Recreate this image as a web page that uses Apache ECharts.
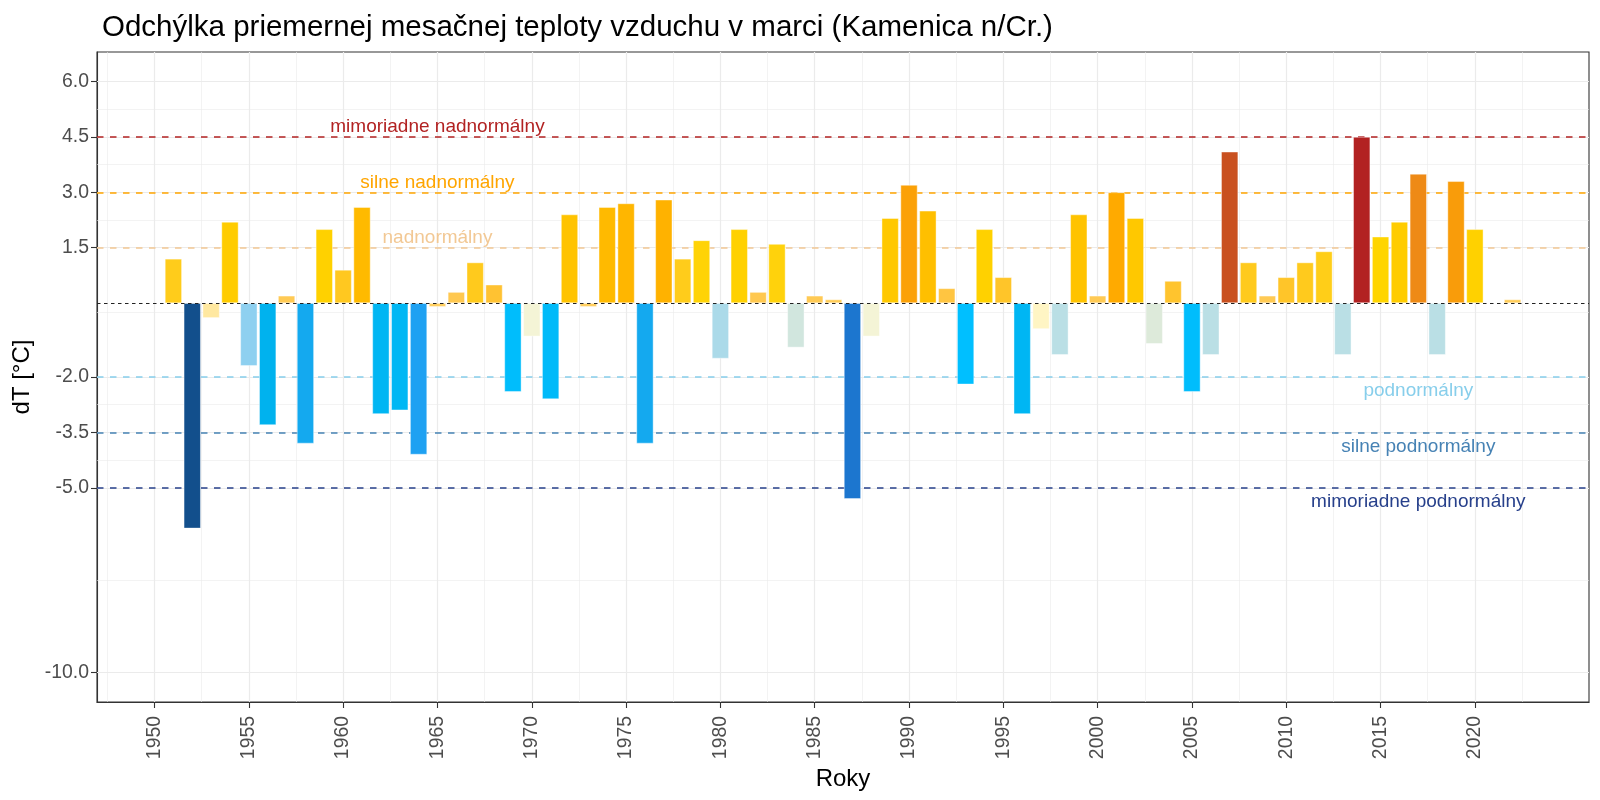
<!DOCTYPE html>
<html>
<head>
<meta charset="utf-8">
<script src="https://cdn.jsdelivr.net/npm/echarts@6/dist/echarts.min.js"></script>
<style>
html,body{margin:0;padding:0;background:#fff;}
#chart{width:1600px;height:800px;}
</style>
</head>
<body>
<div id="chart"></div>
<script>
// ---- data ----
var years = [1951,1952,1953,1954,1955,1956,1957,1958,1959,1960,1961,1962,1963,1964,1965,1966,1967,1968,1969,1970,
             1971,1972,1973,1974,1975,1976,1977,1978,1979,1980,1981,1982,1983,1984,1985,1986,1987,1988,1989,1990,
             1991,1992,1993,1994,1995,1996,1997,1998,1999,2000,2001,2002,2003,2004,2005,2006,2007,2008,2009,2010,
             2011,2012,2013,2014,2015,2016,2017,2018,2019,2020,2021,2022];
var dT = [1.2,-6.1,-0.4,2.2,-1.7,-3.3,0.2,-3.8,2.0,0.9,2.6,-3.0,-2.9,-4.1,-0.1,0.3,1.1,0.5,-2.4,-0.9,
          -2.6,2.4,-0.1,2.6,2.7,-3.8,2.8,1.2,1.7,-1.5,2.0,0.3,1.6,-1.2,0.2,0.1,-5.3,-0.9,2.3,3.2,
          2.5,0.4,-2.2,2.0,0.7,-3.0,-0.7,-1.4,2.4,0.2,3.0,2.3,-1.1,0.6,-2.4,-1.4,4.1,1.1,0.2,0.7,
          1.1,1.4,-1.4,4.5,1.8,2.2,3.5,-1.4,3.3,2.0,0.0,0.1];
var xTicks = [1950,1955,1960,1965,1970,1975,1980,1985,1990,1995,2000,2005,2010,2015,2020];
var xMinor = [1947.5,1952.5,1957.5,1962.5,1967.5,1972.5,1977.5,1982.5,1987.5,1992.5,1997.5,2002.5,2007.5,2012.5,2017.5,2022.5];
var yTicks = [-10.0,-5.0,-3.5,-2.0,1.5,3.0,4.5,6.0];
var yMinor = [-7.5,-4.25,-2.75,-0.25,2.25,3.75,5.25];
var thresholds = [4.5,3.0,1.5,-2.0,-3.5,-5.0];
var thresholdNames = ['mimoriadne nadnormálny','silne nadnormálny','nadnormálny','podnormálny','silne podnormálny','mimoriadne podnormálny'];
var labelX = [1965,1965,1965,2017,2017,2017];
var labelY = [4.78,3.27,1.77,-2.38,-3.88,-5.37];

// ---- styles ----
var thresholdColors = ['#B22222','#FFA500','#F2C894','#87CEEB','#4682B4','#27408B'];
var colorStops = [
  [-6.1,'#124F8C'],[-5.3,'#1C76CF'],[-4.1,'#1EA1F2'],[-3.8,'#14A9EF'],[-3.3,'#00B2EE'],[-2.2,'#00BFFF'],
  [-1.7,'#8ED0F0'],[-1.4,'#BADFE5'],[-1.1,'#DDEADA'],[-0.9,'#F4F4D6'],[-0.7,'#FFF5C4'],[-0.4,'#FFE8A0'],
  [-0.1,'#FFCF60'],[0.3,'#FFC850'],[0.5,'#FFC232'],[0.9,'#FFC820'],[1.4,'#FFCE18'],[1.8,'#FFD500'],
  [2.2,'#FFCC00'],[2.6,'#FFBA00'],[3.0,'#FFAA00'],[3.3,'#F99C0A'],[3.5,'#EE8A16'],[4.1,'#C9501F'],[4.5,'#B22222']
];
function hex2rgb(h){return [parseInt(h.substr(1,2),16),parseInt(h.substr(3,2),16),parseInt(h.substr(5,2),16)];}
function colorFor(v){
  if (v <= colorStops[0][0]) return colorStops[0][1];
  for (var i=1;i<colorStops.length;i++){
    if (v <= colorStops[i][0]){
      var a=colorStops[i-1], b=colorStops[i];
      var t=(v-a[0])/(b[0]-a[0]);
      var ca=hex2rgb(a[1]), cb=hex2rgb(b[1]);
      var c=ca.map(function(x,k){return Math.round(x+(cb[k]-x)*t);});
      return 'rgb('+c.join(',')+')';
    }
  }
  return colorStops[colorStops.length-1][1];
}

var FONT = '"Liberation Sans", Arial, Helvetica, sans-serif';
var chart = echarts.init(document.getElementById('chart'), null, {renderer:'canvas'});

var gridLines = [];
xTicks.forEach(function(v){gridLines.push({xAxis:v, lineStyle:{color:'#EBEBEB',width:1.2,type:'solid'}});});
xMinor.forEach(function(v){gridLines.push({xAxis:v, lineStyle:{color:'#EBEBEB',width:0.6,type:'solid'}});});
yTicks.forEach(function(v){gridLines.push({yAxis:v, lineStyle:{color:'#EBEBEB',width:1.2,type:'solid'}});});
yMinor.forEach(function(v){gridLines.push({yAxis:v, lineStyle:{color:'#EBEBEB',width:0.6,type:'solid'}});});

var refLines = thresholds.map(function(v,i){
  return {yAxis:v, lineStyle:{color:thresholdColors[i],width:1.6,type:[6.5,6.5],opacity:1}};
});

var option = {
  backgroundColor:'#ffffff',
  animation:false,
  title:{
    text:'Odchýlka priemernej mesačnej teploty vzduchu v marci (Kamenica n/Cr.)',
    left:97, top:8,
    textStyle:{fontFamily:FONT,fontSize:29.5,fontWeight:'normal',color:'#000'}
  },
  grid:{left:97,right:11,top:52,bottom:98,show:true,borderColor:'#333333',borderWidth:1.1,backgroundColor:'transparent'},
  xAxis:{
    type:'value', min:1946.95, max:2026.05,
    name:'Roky', nameLocation:'middle', nameGap:62,
    nameTextStyle:{fontFamily:FONT,fontSize:24,color:'#000'},
    splitLine:{show:false},
    axisLine:{show:true,onZero:false,lineStyle:{color:'#333333',width:1.1}},
    axisTick:{show:true,length:6,customValues:xTicks,lineStyle:{color:'#333333',width:1.1}},
    axisLabel:{customValues:xTicks,rotate:90,margin:14,fontFamily:FONT,fontSize:19.4,color:'#4D4D4D',
               formatter:function(v){return String(Math.round(v));}}
  },
  yAxis:{
    type:'value', min:-10.8, max:6.8,
    name:'dT [°C]', nameLocation:'middle', nameGap:63,
    nameTextStyle:{fontFamily:FONT,fontSize:24,color:'#000'},
    splitLine:{show:false},
    axisLine:{show:true,onZero:false,lineStyle:{color:'#333333',width:1.1}},
    axisTick:{show:true,length:6,customValues:yTicks,lineStyle:{color:'#333333',width:1.1}},
    axisLabel:{customValues:yTicks,margin:8,fontFamily:FONT,fontSize:19.4,color:'#4D4D4D',
               formatter:function(v){return v.toFixed(1);}}
  },
  series:[
    {
      type:'line', data:[], silent:true, z:1,
      markLine:{silent:true, symbol:['none','none'], label:{show:false}, z:1, data:gridLines, animation:false}
    },
    {
      type:'line', data:[], silent:true, z:1,
      markLine:{silent:true, symbol:['none','none'], label:{show:false}, z:1, data:refLines, animation:false}
    },
    {
      type:'bar', barWidth:17, z:2,
      data: years.map(function(y,i){return [y,dT[i]];}),
      itemStyle:{
        color:function(p){return colorFor(p.value[1]);},
        borderColor:'rgba(255,255,255,0.7)', borderWidth:0.6
      }
    },
    {
      type:'line', data:[], silent:true, z:3,
      markLine:{silent:true, symbol:['none','none'], label:{show:false}, z:6,
        data:[{yAxis:0, lineStyle:{color:'#222222',width:1,type:[3.5,3.5]}}], animation:false}
    },
    {
      type:'scatter', silent:true, z:7, symbolSize:1,
      itemStyle:{color:'rgba(0,0,0,0)', opacity:1},
      data: thresholdNames.map(function(n,i){return {name:n, value:[labelX[i],labelY[i]],
        label:{show:true, position:'inside', formatter:n, color:thresholdColors[i], opacity:1,
               fontFamily:FONT, fontSize:19, align:'center', verticalAlign:'middle'}};})
    }
  ]
};
chart.setOption(option);
</script>
</body>
</html>
